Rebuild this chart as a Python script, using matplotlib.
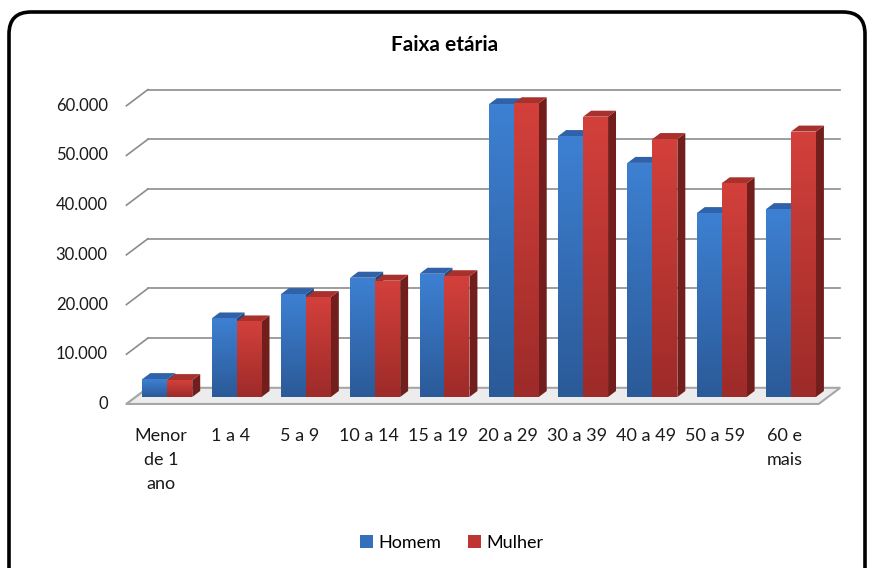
import numpy as np
import matplotlib
matplotlib.use("Agg")
import matplotlib.pyplot as plt
from matplotlib.patches import Polygon, FancyBboxPatch, Patch
from matplotlib.colors import LinearSegmentedColormap

plt.rcParams['font.family'] = ['Lato', 'DejaVu Sans']

# dados
faixas = ['Menor\nde 1\nano', '1 a 4', '5 a 9', '10 a 14', '15 a 19', '20 a 29',
          '30 a 39', '40 a 49', '50 a 59', '60 e\nmais']
homem = [3600, 15800, 20700, 24000, 24800, 58900, 52500, 47100, 37000, 37800]
mulher = [3400, 15200, 20100, 23400, 24300, 59100, 56400, 51900, 43000, 53400]
yticks = [0, 10000, 20000, 30000, 40000, 50000, 60000]
ylabels = ['0', '10.000', '20.000', '30.000', '40.000', '50.000', '60.000']

# cores (frente topo/base, topo, lado)
azul = dict(top='#3d80d2', bot='#2b5a98', cap='#2f62a8', side='#22487a')
verm = dict(top='#d3403b', bot='#9d2b29', cap='#a8302d', side='#721e1d')

W, H = 874, 568
fig = plt.figure(figsize=(W / 100, H / 100), dpi=100)

# moldura arredondada
bg = fig.add_axes([0, 0, 1, 1])
bg.set_xlim(0, W)
bg.set_ylim(H, 0)
bg.axis('off')
bg.add_patch(FancyBboxPatch((9, 12), 856, 600, boxstyle='round,pad=0,rounding_size=22',
                            fc='white', ec='black', lw=2.6))

# eixo principal: 1 categoria = 69.3 px, 10.000 = 49.7 px
cat_px, val_px = 69.3, 49.7 / 10000
x0px, y0px = 167.3, 397
L, R, T, B = 30, 860, 60, 520
ax = fig.add_axes([L / W, 1 - B / H, (R - L) / W, (B - T) / H])
ax.axis('off')

n = len(faixas)
dfx, dfy = -0.59, -1400     # borda frontal do piso
dbx, dby = -0.28, 1850      # parede do fundo
xend = n - 1 + 0.71

# grade da parede do fundo
for v, lab in zip(yticks, ylabels):
    ax.plot([dfx, dbx], [v + dfy, v + dby], color='#8c8c8c', lw=1.2, zorder=1)
    if v > 0:
        ax.plot([dbx, xend], [v + dby, v + dby], color='#8c8c8c', lw=1.2, zorder=1)
    ax.text(-0.86, v + dfy, lab, ha='right', va='center', fontsize=12, color='#1a1a1a')

# piso
piso = Polygon([(dfx, dfy), (xend + dfx - dbx, dfy), (xend, dby), (dbx, dby)],
               closed=True, fc='#ececec', ec='#a6a6a6', lw=1.5, zorder=1.5)
ax.add_patch(piso)

bw = 0.36
ddx, ddy = 0.115, 1207
z = 2
for i in range(n):
    for val, off, c in [(homem[i], -bw, azul), (mulher[i], 0, verm)]:
        x0 = i + off
        x1 = x0 + bw
        lado = Polygon([(x1, 0), (x1 + ddx, ddy), (x1 + ddx, val + ddy), (x1, val)],
                       closed=True, fc=c['side'], ec='none', zorder=z)
        topo = Polygon([(x0, val), (x1, val), (x1 + ddx, val + ddy), (x0 + ddx, val + ddy)],
                       closed=True, fc=c['cap'], ec='none', zorder=z)
        ax.add_patch(lado)
        ax.add_patch(topo)
        b = ax.bar(x0, val, width=bw, align='edge', color=c['bot'], zorder=z + 0.1)[0]
        cmap = LinearSegmentedColormap.from_list('g', [c['bot'], c['top']])
        im = ax.imshow(np.linspace(0, 1, 64).reshape(-1, 1), extent=[x0, x1, 0, val],
                       origin='lower', aspect='auto', cmap=cmap, zorder=z + 0.2)
        im.set_clip_path(b)
        z += 1

ax.set_xlim((L - x0px) / cat_px, (R - x0px) / cat_px)
ax.set_ylim((y0px - B) / val_px, (y0px - T) / val_px)

# rotulos das categorias
for i, lab in enumerate(faixas):
    ax.text(i - 0.09, (y0px - 428) / val_px, lab, ha='center', va='top', fontsize=13,
            color='#1a1a1a', linespacing=1.6)

fig.text(445 / W, 1 - 45 / H, 'Faixa etária', ha='center', va='center',
         fontsize=15, fontweight='bold', color='black')

handles = [Patch(fc='#3570bd', label='Homem'), Patch(fc='#bf3532', label='Mulher')]
fig.legend(handles=handles, loc='center', bbox_to_anchor=(452 / W, 1 - 543 / H), ncol=2,
           frameon=False, fontsize=13, handlelength=0.7, handleheight=0.7,
           handletextpad=0.3, columnspacing=1.5)

fig.savefig('out.png', dpi=100)
